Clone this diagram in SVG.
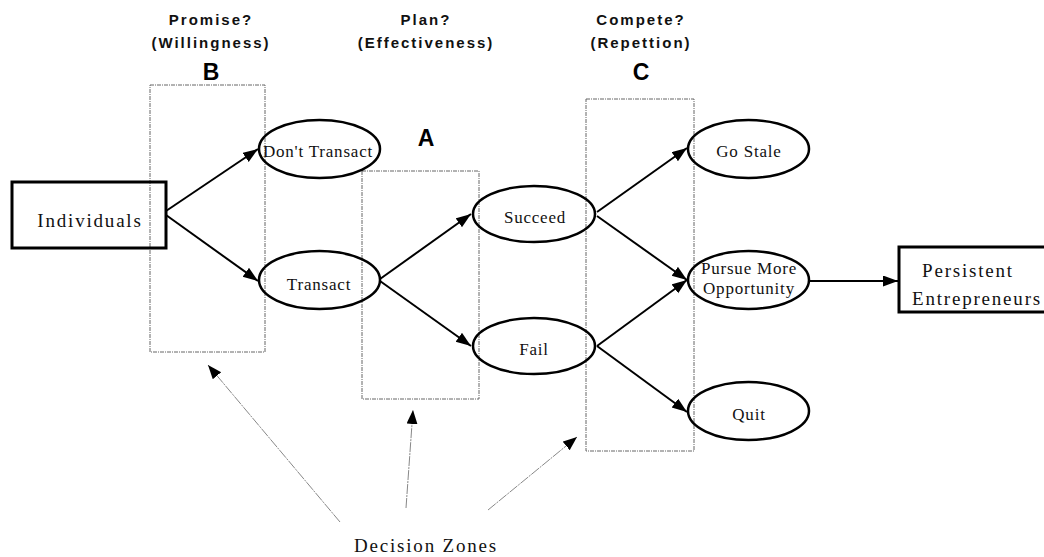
<svg xmlns="http://www.w3.org/2000/svg" width="1044" height="557" viewBox="0 0 1044 557">
  <style>
    .hdr { font-family: "Liberation Sans", Arial, sans-serif; font-weight: bold; font-size: 15px; letter-spacing: 2px; text-anchor: middle; fill: #111; }
    .zid { font-family: "Liberation Sans", Arial, sans-serif; font-weight: bold; font-size: 23px; text-anchor: middle; fill: #000; }
    .lbl { font-family: "Liberation Serif", "Times New Roman", serif; font-size: 17px; letter-spacing: 0.8px; text-anchor: middle; fill: #111; }
    .big { font-family: "Liberation Serif", "Times New Roman", serif; font-size: 19px; letter-spacing: 1.8px; text-anchor: middle; fill: #111; }
    .oval { fill: none; stroke: #000; stroke-width: 2.5; }
    .box { fill: none; stroke: #000; stroke-width: 3; }
    .zone { fill: none; stroke: #666; stroke-width: 1; stroke-dasharray: 4 1 1 1; }
    .flow { stroke: #000; stroke-width: 2; fill: none; marker-end: url(#arr); }
    .hint { stroke: #888; stroke-width: 1; stroke-dasharray: 10 1 2 1; fill: none; marker-end: url(#arr2); }
  </style>
  <defs>
    <marker id="arr" markerUnits="userSpaceOnUse" markerWidth="16" markerHeight="12" refX="15" refY="5.5" orient="auto">
      <path d="M0,0 L15,5.5 L0,11 Z" fill="#000"/>
    </marker>
    <marker id="arr2" markerUnits="userSpaceOnUse" markerWidth="15" markerHeight="12" refX="14" refY="5.5" orient="auto">
      <path d="M0,0 L14,5.5 L0,11 Z" fill="#000"/>
    </marker>
  </defs>

  <rect width="1044" height="557" fill="#fff"/>

  <!-- column headings -->
  <g id="heading-b">
    <text class="hdr" x="211" y="25">Promise?</text>
    <text class="hdr" x="211" y="48">(Willingness)</text>
    <text class="zid" x="211" y="80">B</text>
  </g>
  <g id="heading-a">
    <text class="hdr" x="426" y="25">Plan?</text>
    <text class="hdr" x="426" y="48">(Effectiveness)</text>
  </g>
  <g id="heading-c">
    <text class="hdr" x="641" y="25">Compete?</text>
    <text class="hdr" x="641" y="48">(Repettion)</text>
    <text class="zid" x="641" y="80">C</text>
  </g>

  <!-- decision zones -->
  <g id="zone-b"><rect class="zone" x="150" y="85" width="115" height="267"/></g>
  <g id="zone-a">
    <rect class="zone" x="362" y="171" width="117" height="228"/>
    <text class="zid" x="426" y="146">A</text>
  </g>
  <g id="zone-c"><rect class="zone" x="586" y="99" width="108" height="352"/></g>

  <!-- connectors -->
  <g id="connectors">
    <line class="flow" x1="166" y1="211" x2="258" y2="149"/>
    <line class="flow" x1="166" y1="215" x2="258" y2="281"/>
    <line class="flow" x1="380" y1="279" x2="471" y2="214"/>
    <line class="flow" x1="380" y1="281" x2="471" y2="346"/>
    <line class="flow" x1="597" y1="212" x2="687" y2="148"/>
    <line class="flow" x1="597" y1="216" x2="687" y2="280"/>
    <line class="flow" x1="597" y1="346" x2="687" y2="280"/>
    <line class="flow" x1="597" y1="346" x2="687" y2="412"/>
    <line class="flow" x1="809" y1="281" x2="898" y2="281"/>
    <line class="hint" x1="340" y1="522" x2="208" y2="365"/>
    <line class="hint" x1="406" y1="508" x2="413" y2="410"/>
    <line class="hint" x1="488" y1="510" x2="577" y2="437"/>
  </g>

  <!-- nodes -->
  <g id="individuals">
    <rect class="box" x="12" y="182" width="154" height="66"/>
    <text class="big" x="90" y="227">Individuals</text>
  </g>
  <g id="dont-transact">
    <ellipse class="oval" cx="319.5" cy="149" rx="60.5" ry="29"/>
    <text class="lbl" x="318" y="157">Don't Transact</text>
  </g>
  <g id="transact">
    <ellipse class="oval" cx="319.5" cy="280" rx="60.5" ry="29"/>
    <text class="lbl" x="319" y="290">Transact</text>
  </g>
  <g id="succeed">
    <ellipse class="oval" cx="534" cy="214" rx="61" ry="28"/>
    <text class="lbl" x="535" y="223">Succeed</text>
  </g>
  <g id="fail">
    <ellipse class="oval" cx="534" cy="346" rx="61" ry="28"/>
    <text class="lbl" x="534" y="355">Fail</text>
  </g>
  <g id="go-stale">
    <ellipse class="oval" cx="748.5" cy="149" rx="60.5" ry="29"/>
    <text class="lbl" x="749" y="157">Go Stale</text>
  </g>
  <g id="pursue">
    <ellipse class="oval" cx="748.5" cy="280" rx="60.5" ry="29"/>
    <text class="lbl" x="749" y="274">Pursue More</text>
    <text class="lbl" x="749" y="294">Opportunity</text>
  </g>
  <g id="quit">
    <ellipse class="oval" cx="748.5" cy="411" rx="60.5" ry="29"/>
    <text class="lbl" x="749" y="420">Quit</text>
  </g>
  <g id="persistent">
    <rect class="box" x="899" y="247" width="150" height="65"/>
    <text class="big" x="968" y="277">Persistent</text>
    <text class="big" x="977" y="305">Entrepreneurs</text>
  </g>

  <g id="caption">
    <text class="big" x="426" y="552">Decision Zones</text>
  </g>
</svg>
